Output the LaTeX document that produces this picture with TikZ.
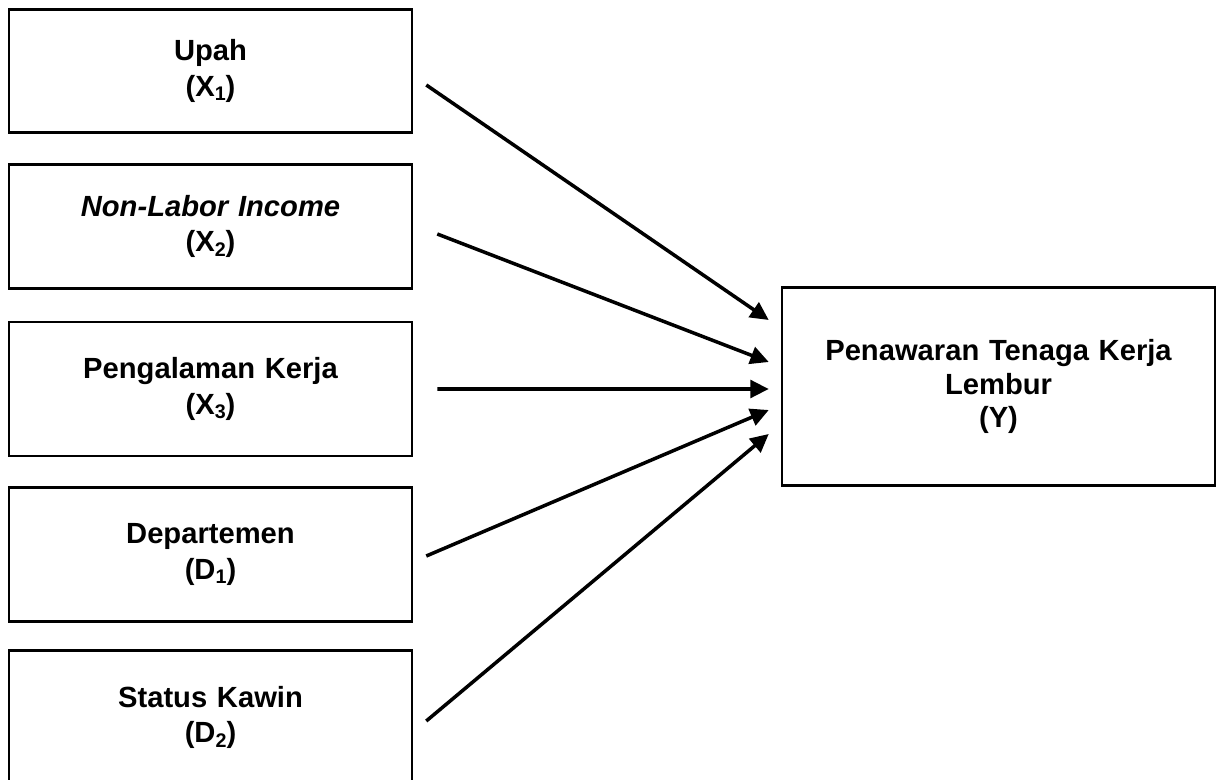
\documentclass[tikz,border=0pt]{standalone}
\usepackage{fontspec}
\setmainfont{Liberation Sans}
\usetikzlibrary{arrows.meta,positioning}
\newcommand{\idx}[1]{\raisebox{-0.3ex}{\fontsize{5.6}{6}\selectfont#1}}

\begin{document}
\begin{tikzpicture}[>={Triangle[length=5.2pt,width=5pt]},
  var/.style={draw,line width=0.6pt,minimum width=3.97cm,text width=3.8cm,
    align=center,font=\fontsize{8.3}{10}\selectfont\bfseries},
  link/.style={->,line width=1pt}]
\useasboundingbox (0,0) rectangle (12.16,-7.80);
\path
(2.105,-0.71)  node[var,minimum height=1.23cm] (x1) {Upah\\(X\idx{1})}
(2.105,-2.265) node[var,minimum height=1.24cm] (x2) {\itshape Non-Labor Income\\\upshape(X\idx{2})}
(2.105,-3.89)  node[var,minimum height=1.34cm] (x3) {Pengalaman Kerja\\(X\idx{3})}
(2.105,-5.545) node[var,minimum height=1.34cm] (d1) {Departemen\\(D\idx{1})}
(2.105,-7.175) node[var,minimum height=1.34cm] (d2) {Status Kawin\\(D\idx{2})}
(9.985,-3.865) node[var,minimum width=4.26cm,minimum height=1.98cm,text width=4.1cm,
  font=\fontsize{8.3}{9.5}\selectfont\bfseries] (y) {Penawaran Tenaga Kerja\\Lembur\\(Y)};
% panah ke Y
\draw[link] ([shift={(0.13,-0.14)}]x1.east)  -- ([shift={(-0.12,0.665)}]y.west);
\draw[link] ([shift={(0.24,-0.075)}]x2.east) -- ([shift={(-0.12,0.245)}]y.west);
\draw[link] ([shift={(0.24,0)}]x3.east)      -- ([shift={(-0.12,-0.025)}]y.west);
\draw[link] ([shift={(0.13,-0.015)}]d1.east) -- ([shift={(-0.12,-0.235)}]y.west);
\draw[link] ([shift={(0.13,-0.035)}]d2.east) -- ([shift={(-0.12,-0.475)}]y.west);
\end{tikzpicture}
\end{document}
